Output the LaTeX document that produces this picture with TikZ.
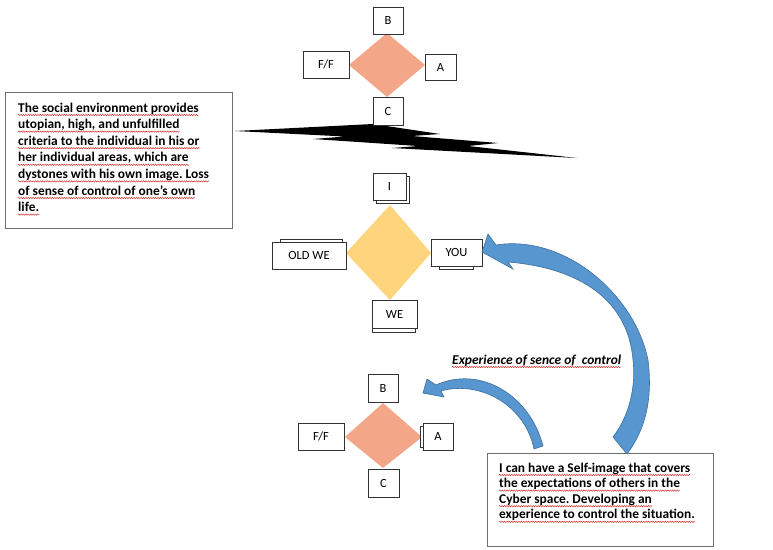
\documentclass[tikz,border=0pt]{standalone}
\usepackage{fontspec}
\setmainfont{Carlito}
\usetikzlibrary{decorations.pathmorphing}
\frenchspacing

\definecolor{salmon}{RGB}{243,166,136}
\definecolor{gold}{RGB}{254,212,125}
\definecolor{arrowblue}{RGB}{88,150,208}
\definecolor{arrowedge}{RGB}{62,110,158}
\definecolor{frame}{RGB}{110,110,110}
\definecolor{squig}{RGB}{214,40,40}

\tikzset{
  lbl/.style={draw=black!80, fill=white, line width=0.7pt, inner sep=0pt,
              font=\fontsize{12.5}{14}\selectfont},
  backlbl/.style={draw=black!80, fill=white, line width=0.7pt, inner sep=0pt},
  textframe/.style={draw=frame, fill=white, line width=0.9pt, inner sep=0pt},
  bodytxt/.style={anchor=base west, inner sep=0pt,
                  font=\fontsize{13.4}{16}\selectfont\bfseries},
  captxt/.style={anchor=base west, inner sep=0pt,
                 font=\fontsize{13.5}{15}\selectfont\bfseries\itshape},
  ul/.style={draw=squig, line width=0.45pt, decorate,
             decoration={snake, amplitude=0.7pt, segment length=2.4pt}},
  bluearrow/.style={fill=arrowblue, draw=arrowedge, line width=0.6pt},
}

\begin{document}
\begin{tikzpicture}[x=1pt, y=-1pt]
\useasboundingbox (0,0) rectangle (773,549);

% ---------- upper diamond: B, F/F, A, C ----------
\fill[salmon] (349,65) -- (387,33) -- (425,65) -- (387,97) -- cycle;
\node[lbl, minimum width=30pt, minimum height=27pt] (b1) at (388,20.5) {B};
\node[lbl, minimum width=46pt, minimum height=27pt] (ff1) at (326,64.5) {F/F};
\node[lbl, minimum width=31pt, minimum height=26pt] (a1) at (440.5,67) {A};

% ---------- jagged black bolt ----------
\fill[black] (235,131) -- (373,124) -- (440,134) -- (412,136) -- (498,143)
  -- (468,146) -- (577,158) -- (392,148) -- (418,146) -- (313,139)
  -- (345,136.5) -- cycle;
\node[lbl, minimum width=30pt, minimum height=28pt] (c1) at (388,111) {C};

% ---------- left text box ----------
\node[textframe, minimum width=227pt, minimum height=136pt] (leftbox) at (118.5,160) {};
\node[bodytxt] (t1) at (18,112)   {The social environment provides};
\node[bodytxt] (t2) at (18,128.6) {utopian, high, and unfulfilled};
\node[bodytxt] (t3) at (18,145.2) {criteria to the individual in his or};
\node[bodytxt] (t4) at (18,161.8) {her individual areas, which are};
\node[bodytxt] (t5) at (18,178.4) {dystones with his own image. Loss};
\node[bodytxt] (t6) at (18,195)   {of sense of control of one's own};
\node[bodytxt] (t7) at (18,211.6) {life.};
\foreach \n in {t1,t2,t3,t4,t5,t6,t7}
  \draw[ul] ([yshift=-3pt]\n.base west) -- ([yshift=-3pt]\n.base east);

% ---------- middle diamond: I, OLD WE, YOU, WE ----------
\fill[gold] (346,253) -- (390,205) -- (431,253) -- (390,300) -- cycle;
\node[backlbl, minimum width=33pt, minimum height=27pt] (ib) at (392.5,189.5) {};
\node[lbl, minimum width=33pt, minimum height=27pt] (i) at (389.5,186.5) {I};
\node[backlbl, minimum width=62pt, minimum height=27pt] (oldweb) at (311,252.5) {};
\node[lbl, minimum width=74pt, minimum height=27pt] (oldwe) at (309,255.5) {OLD WE};
\node[backlbl, minimum width=34pt, minimum height=27pt] (youb) at (456,255.5) {};
\node[lbl, minimum width=51pt, minimum height=27pt] (you) at (456.5,252.5) {YOU};
\node[backlbl, minimum width=43pt, minimum height=27pt] (web) at (393.5,318.5) {};
\node[lbl, minimum width=45pt, minimum height=28pt] (we) at (394.5,314) {WE};

% ---------- lower diamond: B, F/F, A, C ----------
\fill[salmon] (345,437) -- (383,403) -- (422,437) -- (383,468) -- cycle;
\node[lbl, minimum width=30pt, minimum height=28pt] (b3) at (383,388) {B};
\node[lbl, minimum width=46pt, minimum height=27pt] (ff3) at (321,436.5) {F/F};
\node[backlbl, minimum width=28pt, minimum height=21pt] (a3b) at (434,436.5) {};
\node[lbl, minimum width=30pt, minimum height=27pt] (a3) at (438,436.5) {A};
\node[lbl, minimum width=31pt, minimum height=28pt] (c3) at (383.5,483) {C};

% ---------- caption ----------
\node[captxt] (cap) at (452,364) {Experience of sence of\ \ control};
\draw[ul] ([yshift=-3pt]cap.base west) -- ([yshift=-3pt]cap.base east);

% ---------- right text box ----------
\node[textframe, minimum width=226pt, minimum height=93pt] (rightbox) at (600,499.5) {};
\node[bodytxt] (r1) at (499,472)   {I can have a Self-image that covers};
\node[bodytxt] (r2) at (499,487.6) {the expectations of others in the};
\node[bodytxt] (r3) at (499,503.2) {Cyber space. Developing an};
\node[bodytxt] (r4) at (499,518.8) {experience to control the situation.};
\foreach \n in {r1,r2,r3,r4}
  \draw[ul] ([yshift=-3pt]\n.base west) -- ([yshift=-3pt]\n.base east);

% ---------- curved blue arrows ----------
% large arrow from the right box up to YOU
\path[bluearrow] (496,245) .. controls (565,234) and (635,295) .. (648,360)
  .. controls (653,400) and (645,430) .. (627,454) -- (613,437)
  .. controls (630,415) and (636,385) .. (633,360)
  .. controls (628,300) and (580,268) .. (508,262)
  -- (513,269) -- (482,252) -- (488,234) -- cycle;
% small arrow from the right box to the lower B
\path[bluearrow] (436,385) .. controls (480,365) and (530,395) .. (543,446)
  -- (534,449) .. controls (525,405) and (480,380) .. (441,391)
  -- (444,397) -- (423,393) -- (427,379) -- cycle;
\end{tikzpicture}
\end{document}
